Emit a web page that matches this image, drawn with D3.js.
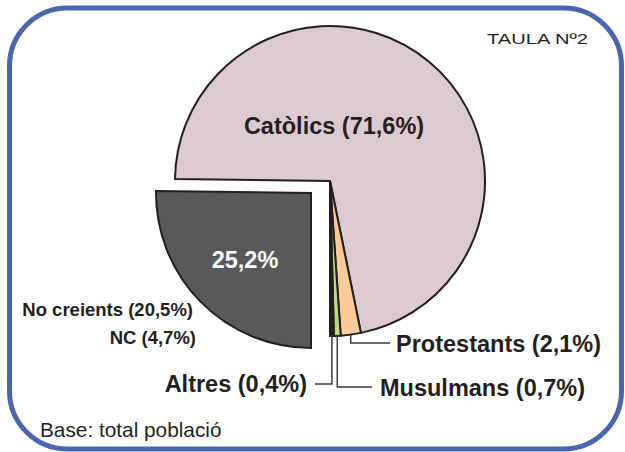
<!DOCTYPE html>
<html>
<meta charset="utf-8">
<head>
  <title>Taula 2</title>
</head>

<style>
body {
  margin: 0;
  background: white;
}
text {
  font-family: "Liberation Sans", Arial, Helvetica, sans-serif;
  fill: #231f20;
}
.big {
  font-size: 23.5px;
  font-weight: bold;
}
.small {
  font-size: 18.5px;
  font-weight: bold;
}
</style>

<body>
  <div id="chart"></div>

  <script src="https://d3js.org/d3.v7.min.js"></script>
  <script>

var categories = ['No creients + NC', 'Catòlics', 'Protestants', 'Musulmans', 'Altres'];
var values = [25.2, 71.6, 2.1, 0.7, 0.4];
var colors = ['#58595b', '#dccad2', '#fdcb98', '#c3d97c', '#231f20'];

// the dark slice is made of these two
var darkParts = ['No creients', 'NC'];
var darkValues = [20.5, 4.7];

function pct(v) {
  return String(v).replace('.', ',') + '%';
}

var data = categories.map(function(c, i) {
  return {name: c, quantity: values[i], color: colors[i]};
});

var width = 625,
    height = 452;

var svg = d3.select('#chart')
  .append('svg')
  .attr('width', width)
  .attr('height', height);

// frame
svg.append('rect')
  .attr('x', 9.5)
  .attr('y', 8)
  .attr('width', 612)
  .attr('height', 441)
  .attr('rx', 58)
  .attr('ry', 58)
  .style('fill', 'white')
  .style('stroke', '#4a66ae')
  .style('stroke-width', 5);

var radius = 155;
var cx = 330, cy = 181;

var pieGenerator = d3.pie()
  .value(function(d) { return d.quantity; })
  .sort(null)
  .startAngle(Math.PI)
  .endAngle(3 * Math.PI);

var arcGenerator = d3.arc()
  .innerRadius(0)
  .outerRadius(radius);

var arcData = pieGenerator(data);

var chart = svg.append('g')
  .attr('transform', 'translate(' + cx + ',' + cy + ')');

chart.selectAll('path')
  .data(arcData)
  .enter()
  .append('path')
  .attr('d', arcGenerator)
  .attr('transform', function(d, i) {
    return i === 0 ? 'translate(-19,12)' : null;
  })
  .style('fill', function(d) { return d.data.color; })
  .style('stroke', '#231f20')
  .style('stroke-width', 2)
  .style('stroke-linejoin', 'miter');

// leader lines for the thin slices
function edgePoint(d) {
  var a = (d.startAngle + d.endAngle) / 2;
  return [Math.sin(a) * (radius - 1), -Math.cos(a) * (radius - 1)];
}

var leaders = [
  {i: 2, y: 343, x2: 390},
  {i: 3, y: 387, x2: 372},
  {i: 4, y: 384, x2: 315}
];

leaders.forEach(function(l) {
  var p = edgePoint(arcData[l.i]);
  var x = cx + p[0], y = cy + p[1];
  svg.append('polyline')
    .attr('points', [[x, y], [x, l.y], [l.x2, l.y]].map(function(q) { return q.join(','); }).join(' '))
    .style('fill', 'none')
    .style('stroke', '#3a3a3a')
    .style('stroke-width', 1.5);
});

// labels
svg.append('text')
  .attr('class', 'big')
  .attr('x', 334)
  .attr('y', 134)
  .attr('text-anchor', 'middle')
  .text(categories[1] + ' (' + pct(values[1]) + ')');

svg.append('text')
  .attr('class', 'big')
  .attr('x', 245)
  .attr('y', 268)
  .attr('text-anchor', 'middle')
  .style('fill', 'white')
  .text(pct(values[0]));

svg.append('text')
  .attr('class', 'big')
  .attr('x', 396)
  .attr('y', 352)
  .text(categories[2] + ' (' + pct(values[2]) + ')');

svg.append('text')
  .attr('class', 'big')
  .attr('x', 380)
  .attr('y', 396)
  .text(categories[3] + ' (' + pct(values[3]) + ')');

svg.append('text')
  .attr('class', 'big')
  .attr('x', 307)
  .attr('y', 392)
  .attr('text-anchor', 'end')
  .text(categories[4] + ' (' + pct(values[4]) + ')');

svg.append('text')
  .attr('class', 'small')
  .attr('x', 193)
  .attr('y', 316)
  .attr('text-anchor', 'end')
  .text(darkParts[0] + ' (' + pct(darkValues[0]) + ')');

svg.append('text')
  .attr('class', 'small')
  .attr('x', 196)
  .attr('y', 344)
  .attr('text-anchor', 'end')
  .text(darkParts[1] + ' (' + pct(darkValues[1]) + ')');

svg.append('text')
  .attr('x', 40)
  .attr('y', 437)
  .style('font-size', '20.8px')
  .text('Base: total població');

// title is drawn wide in the original
svg.append('text')
  .attr('transform', 'translate(487,44) scale(1.39,1)')
  .style('font-size', '14.5px')
  .text('TAULA Nº2');

  </script>
</body>
</html>
